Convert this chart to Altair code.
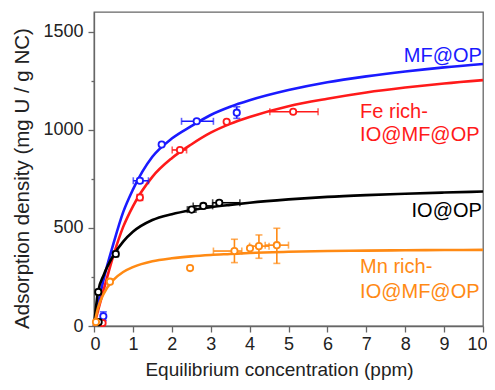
import altair as alt
import pandas as pd

FONT = "Liberation Sans, Arial, sans-serif"
GRAY = "#666666"

series = ["MF@OP", "Fe rich", "IO@OP", "Mn rich"]
colors = ["#1a1aff", "#ff1a1a", "#000000", "#ff8a14"]

# fitted curves
curve_x = [0, 0.1, 0.25, 0.5, 0.75, 1, 1.5, 2, 2.5, 3, 3.5, 4, 5, 6, 7, 8, 9, 10]
curve_mf = [0, 105, 240, 420, 580, 695, 862, 955, 1018, 1075, 1117, 1150, 1202, 1242, 1272, 1297, 1318, 1335]
curve_fe = [0, 75, 185, 360, 505, 610, 760, 855, 925, 985, 1030, 1065, 1120, 1158, 1190, 1215, 1236, 1253]
curve_io = [0, 170, 260, 360, 430, 480, 540, 570, 590, 605, 617, 628, 645, 658, 667, 674, 680, 685]
curve_mn = [0, 90, 165, 235, 275, 300, 330, 345, 355, 362, 367, 372, 378, 382, 384, 386, 387, 388]

# measured points: x, y, x-low, x-high, y-low, y-high
mf_x = [0.24, 1.18, 1.74, 2.64, 3.67]
mf_y = [50, 740, 925, 1043, 1087]
mf_xlo = [0.19, 1.01, 1.74, 2.25, 3.67]
mf_xhi = [0.29, 1.40, 1.74, 3.07, 3.67]
mf_ylo = [28, 728, 925, 1043, 1058]
mf_yhi = [72, 752, 925, 1043, 1117]

fe_x = [0.22, 1.18, 2.21, 3.41, 5.12]
fe_y = [15, 655, 897, 1041, 1092]
fe_xlo = [0.17, 1.12, 2.01, 3.41, 4.52]
fe_xhi = [0.27, 1.24, 2.38, 3.41, 5.76]
fe_ylo = [5, 640, 897, 1041, 1092]
fe_yhi = [25, 670, 897, 1041, 1092]

io_x = [0.12, 0.11, 0.56, 2.51, 2.81, 3.22]
io_y = [20, 173, 367, 593, 612, 628]
io_xlo = [0.12, 0.07, 0.50, 2.40, 2.55, 3.05]
io_xhi = [0.12, 0.15, 0.62, 2.62, 3.05, 3.75]
io_ylo = [20, 160, 355, 580, 600, 618]
io_yhi = [20, 186, 379, 606, 624, 638]

mn_x = [0.05, 0.41, 2.47, 3.61, 4.01, 4.24, 4.70]
mn_y = [20, 226, 295, 382, 396, 407, 412]
mn_xlo = [0.05, 0.36, 2.47, 3.07, 4.01, 4.00, 4.40]
mn_xhi = [0.05, 0.46, 2.47, 3.80, 4.01, 4.50, 5.00]
mn_ylo = [20, 215, 295, 323, 396, 345, 319]
mn_yhi = [20, 237, 295, 442, 396, 464, 498]

# label texts
label_text = ["MF@OP", "Fe rich-", "IO@MF@OP", "IO@OP", "Mn rich-", "IO@MF@OP"]
label_series = ["MF@OP", "Fe rich", "Fe rich", "IO@OP", "Mn rich", "Mn rich"]
label_x = [9.97, 6.84, 6.84, 9.97, 6.84, 6.84]
label_y = [1345, 1060, 942, 555, 270, 143]
label_align = ["right", "left", "left", "right", "left", "left"]

# ---- build tables ----
curve_rows = []
for s, ys in zip(series, [curve_mf, curve_fe, curve_io, curve_mn]):
    for x, y in zip(curve_x, ys):
        curve_rows.append({"series": s, "x": x, "y": y})
curves = pd.DataFrame(curve_rows)

pt_rows = []
for s, arrs in zip(series, [
    (mf_x, mf_y, mf_xlo, mf_xhi, mf_ylo, mf_yhi),
    (fe_x, fe_y, fe_xlo, fe_xhi, fe_ylo, fe_yhi),
    (io_x, io_y, io_xlo, io_xhi, io_ylo, io_yhi),
    (mn_x, mn_y, mn_xlo, mn_xhi, mn_ylo, mn_yhi),
]):
    for x, y, xl, xh, yl, yh in zip(*arrs):
        pt_rows.append({"series": s, "x": x, "y": y, "xlo": xl, "xhi": xh, "ylo": yl, "yhi": yh})
pts = pd.DataFrame(pt_rows)

labels = pd.DataFrame({"text": label_text, "series": label_series, "x": label_x,
                       "y": label_y, "align": label_align})

color = alt.Color("series:N", scale=alt.Scale(domain=series, range=colors), legend=None)

x_axis = alt.Axis(
    values=[i * 0.5 for i in range(21)],
    format="d",
    labelExpr="datum.value % 1 === 0 ? format(datum.value, 'd') : ''",
    labelFlush=True, labelFlushOffset=4, labelOverlap=False, labelBound=False,
    tickSize={"condition": {"test": "datum.value % 1 === 0", "value": 6}, "value": 3},
    title="Equilibrium concentration (ppm)",
    titlePadding=7, titleX=185, titleFontSize=19,
    labelPadding=3,
)
y_axis = alt.Axis(
    values=[i * 250 for i in range(7)],
    format="d",
    labelExpr="datum.value % 500 === 0 ? format(datum.value, 'd') : ''",
    labelFlush=False, labelOverlap=False, labelBound=False,
    tickSize={"condition": {"test": "datum.value % 500 === 0", "value": 6}, "value": 3},
    title="Adsorption density (mg U / g NC)",
    titlePadding=10, titleY=166, titleFontSize=20.5,
    labelPadding=5,
)
xs = alt.Scale(domain=[0, 10], nice=False, zero=False)
ys = alt.Scale(domain=[0, 1600], nice=False)


def X(f):
    return alt.X(f"{f}:Q", scale=xs, axis=x_axis)


def Y(f):
    return alt.Y(f"{f}:Q", scale=ys, axis=y_axis)


lines = alt.Chart(curves).mark_line(strokeWidth=2.6, interpolate="monotone").encode(
    x=X("x"), y=Y("y"), color=color, detail="series:N")

base_pts = alt.Chart(pts)
xerr = base_pts.mark_rule(strokeWidth=1.6).encode(
    x=X("xlo"), x2="xhi:Q", y=Y("y"), color=color
).transform_filter("datum.xhi > datum.xlo")
yerr = base_pts.mark_rule(strokeWidth=1.6).encode(
    x=X("x"), y=Y("ylo"), y2="yhi:Q", color=color
).transform_filter("datum.yhi > datum.ylo")

xcap_lo = base_pts.mark_tick(orient="vertical", size=7, thickness=1.6).encode(
    x=X("xlo"), y=Y("y"), color=color).transform_filter("datum.xhi > datum.xlo")
xcap_hi = base_pts.mark_tick(orient="vertical", size=7, thickness=1.6).encode(
    x=X("xhi"), y=Y("y"), color=color).transform_filter("datum.xhi > datum.xlo")
ycap_lo = base_pts.mark_tick(orient="horizontal", size=7, thickness=1.6).encode(
    x=X("x"), y=Y("ylo"), color=color).transform_filter("datum.yhi > datum.ylo")
ycap_hi = base_pts.mark_tick(orient="horizontal", size=7, thickness=1.6).encode(
    x=X("x"), y=Y("yhi"), color=color).transform_filter("datum.yhi > datum.ylo")

markers = base_pts.mark_point(shape="circle", size=40, filled=False, strokeWidth=1.8,
                              fill="white", fillOpacity=1).encode(
    x=X("x"), y=Y("y"), color=color)

txt_r = alt.Chart(labels).transform_filter("datum.align === 'right'").mark_text(
    align="right", baseline="alphabetic", font=FONT, fontSize=20).encode(
    x=X("x"), y=Y("y"), text="text:N", color=color)
txt_l = alt.Chart(labels).transform_filter("datum.align === 'left'").mark_text(
    align="left", baseline="alphabetic", font=FONT, fontSize=20).encode(
    x=X("x"), y=Y("y"), text="text:N", color=color)

chart = alt.layer(lines, xerr, yerr, xcap_lo, xcap_hi, ycap_lo, ycap_hi, markers, txt_r, txt_l).properties(
    width=389, height=314,
    autosize=alt.AutoSizeParams(type="none"),
    padding={"left": 86, "top": 4, "right": 4, "bottom": 56},
).configure_view(stroke=GRAY, strokeWidth=1.3).configure_axis(
    grid=False, domainColor=GRAY, domainWidth=1.3, tickColor=GRAY, tickWidth=1.3,
    labelFont=FONT, labelFontSize=18, labelColor="#222222",
    titleFont=FONT, titleFontWeight="normal", titleColor="#222222",
)

chart.save("out.html", embed_options={"renderer": "svg", "actions": False})
